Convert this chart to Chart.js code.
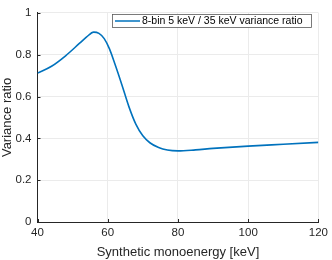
<!DOCTYPE html>
<html>
<head>
<meta charset="utf-8">
<script src="https://cdn.jsdelivr.net/npm/chart.js@4"></script>
<style>
  html, body { margin: 0; padding: 0; background: #fff; }
  #wrap { width: 332px; height: 260px; position: relative; }
</style>
</head>
<body>
<div id="wrap"><canvas id="ratioChart"></canvas></div>
<script>
const energies = [40, 44, 48, 52, 54, 56, 57.5, 59, 60.5, 62, 64, 66, 68, 70, 72, 74.5, 77, 80, 85, 90, 100, 110, 120];
const ratios = [0.712, 0.745, 0.795, 0.855, 0.885, 0.908, 0.902, 0.877, 0.828, 0.758, 0.658, 0.553, 0.468, 0.412, 0.379, 0.356, 0.344, 0.340, 0.345, 0.352, 0.363, 0.372, 0.381];
const xTicks = [40, 60, 80, 100, 120];
const yTicks = [0, 0.2, 0.4, 0.6, 0.8, 1];
const seriesLabel = "8-bin 5 keV / 35 keV variance ratio";

const FONT = "'Liberation Sans', Arial, Helvetica, sans-serif";
const TEXT = "#262626";
const GRID = "#ebebeb";
const BLUE = "#0072BD";

// inward tick marks + legend box inside the axes (MATLAB style)
const matlabBits = {
  id: "matlabBits",
  afterDraw(chart) {
    const { ctx, chartArea: a, scales } = chart;
    ctx.save();
    ctx.strokeStyle = TEXT;
    ctx.lineWidth = 1;
    ctx.beginPath();
    xTicks.forEach(v => {
      const x = Math.round(scales.x.getPixelForValue(v)) + 0.5;
      ctx.moveTo(x, a.bottom);
      ctx.lineTo(x, a.bottom - 3);
    });
    yTicks.forEach(v => {
      const y = Math.round(scales.y.getPixelForValue(v)) + 0.5;
      ctx.moveTo(a.left, y);
      ctx.lineTo(a.left + 3, y);
    });
    ctx.stroke();

    // legend
    const bx = 112.5, by = 14.5, bw = 199, bh = 13;
    ctx.fillStyle = "#fff";
    ctx.fillRect(bx, by, bw, bh);
    ctx.strokeStyle = "#5a5a5a";
    ctx.lineWidth = 0.8;
    ctx.strokeRect(bx, by, bw, bh);
    ctx.strokeStyle = BLUE;
    ctx.lineWidth = 1.5;
    ctx.beginPath();
    ctx.moveTo(115, by + bh / 2);
    ctx.lineTo(140, by + bh / 2);
    ctx.stroke();
    ctx.fillStyle = "#000";
    ctx.font = "10.5px " + FONT;
    ctx.textBaseline = "middle";
    ctx.textAlign = "left";
    ctx.fillText(chart.data.datasets[0].label, 142, by + bh / 2 + 0.5);
    ctx.restore();
  }
};

new Chart(document.getElementById("ratioChart"), {
  type: "line",
  data: {
    datasets: [{
      label: seriesLabel,
      data: energies.map((e, i) => ({ x: e, y: ratios[i] })),
      borderColor: BLUE,
      borderWidth: 1.6,
      pointRadius: 0,
      fill: false,
      cubicInterpolationMode: "monotone"
    }]
  },
  options: {
    responsive: true,
    maintainAspectRatio: false,
    animation: false,
    layout: { padding: { top: 5, right: 10.5, left: 0, bottom: 0 } },
    plugins: { legend: { display: false }, tooltip: { enabled: false } },
    scales: {
      x: {
        type: "linear",
        min: 40,
        max: 120,
        afterBuildTicks: s => { s.ticks = xTicks.map(v => ({ value: v })); },
        afterFit: s => { s.height = 38; },
        grid: { color: GRID, drawTicks: false },
        border: { color: TEXT, width: 1 },
        ticks: { color: TEXT, font: { family: FONT, size: 11.5 }, padding: 4, maxRotation: 0 },
        title: { display: true, text: "Synthetic monoenergy [keV]", color: TEXT, font: { family: FONT, size: 13 }, padding: { top: 0, bottom: 0 } }
      },
      y: {
        min: 0,
        max: 1,
        afterBuildTicks: s => { s.ticks = yTicks.map(v => ({ value: v })); },
        afterFit: s => { s.width = 37.5; },
        grid: { color: GRID, drawTicks: false },
        border: { color: TEXT, width: 1 },
        ticks: { color: TEXT, font: { family: FONT, size: 11.5 }, padding: 6, callback: v => String(v) },
        title: { display: true, text: "Variance ratio", color: TEXT, font: { family: FONT, size: 13 }, padding: { top: 0, bottom: 0 } }
      }
    }
  },
  plugins: [matlabBits]
});
</script>
</body>
</html>
